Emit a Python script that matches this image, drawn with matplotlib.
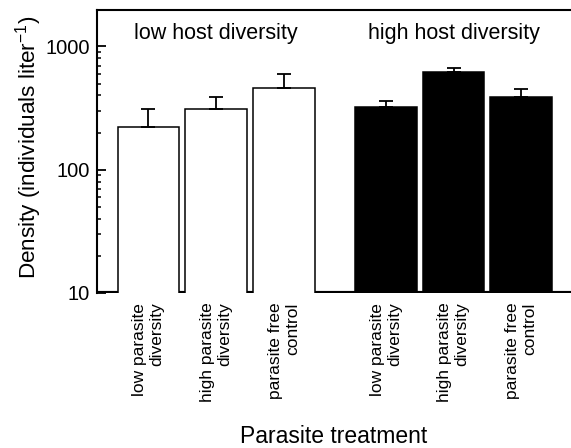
import numpy as np
import matplotlib
matplotlib.use("Agg")
import matplotlib.pyplot as plt
from matplotlib.ticker import NullFormatter, LogLocator

plt.rcParams['font.family'] = ['Liberation Sans', 'DejaVu Sans']
plt.rcParams['mathtext.fontset'] = 'custom'
plt.rcParams['mathtext.rm'] = 'Liberation Sans'
plt.rcParams['mathtext.it'] = 'Liberation Sans:italic'
plt.rcParams['mathtext.bf'] = 'Liberation Sans:bold'

# data
treatments = ["low parasite\ndiversity", "high parasite\ndiversity", "parasite free\ncontrol"]
low_host = [222, 313, 462]
low_host_se = [89, 76, 132]
high_host = [324, 624, 389]
high_host_se = [39, 48, 60]
group_titles = ["low host diversity", "high host diversity"]

fig = plt.figure(figsize=(5.71, 4.48), dpi=100)
ax = fig.add_axes([0.170, 0.346, 0.832, 0.632])
ax.set_yscale('log')

x_low = np.arange(3)
x_high = np.arange(3) + 3.5
w = 0.91

# baseline only shows between bars
ax.axhline(10, color='k', lw=3, zorder=1)

ax.bar(x_low, low_host, w, color='white', edgecolor='black', linewidth=1.1, zorder=2)
ax.bar(x_high, high_host, w, color='black', edgecolor='black', linewidth=1.1, zorder=2)
ax.errorbar(x_low, low_host, yerr=[np.zeros(3), low_host_se], fmt='none',
            ecolor='black', elinewidth=1.3, capsize=5, capthick=1.3, zorder=3)
ax.errorbar(x_high, high_host, yerr=[np.zeros(3), high_host_se], fmt='none',
            ecolor='black', elinewidth=1.3, capsize=5, capthick=1.3, zorder=1.5)

ax.set_ylim(10, 1980)
ax.set_xlim(-0.758, 6.25)

ax.set_yticks([10, 100, 1000], labels=["10", "100", "1000"])
ax.yaxis.set_minor_locator(LogLocator(base=10, subs=np.arange(2, 10)))
ax.yaxis.set_minor_formatter(NullFormatter())
ax.tick_params(axis='y', which='major', direction='in', length=6.5, width=1.3,
               labelsize=14.5, pad=5)
ax.tick_params(axis='y', which='minor', direction='in', length=3, width=1.1)

ax.set_xticks(np.concatenate([x_low, x_high]), labels=treatments * 2,
              rotation=90, va='top', ha='center', multialignment='right')
ax.tick_params(axis='x', length=0, labelsize=12.5, pad=7)

ax.spines['bottom'].set_visible(False)
ax.spines['right'].set_visible(False)
ax.spines['left'].set_linewidth(1.5)
ax.spines['top'].set_linewidth(1.5)

ax.text(1, 0.915, group_titles[0], transform=ax.get_xaxis_transform(),
        ha='center', va='center', fontsize=15.5)
ax.text(4.5, 0.915, group_titles[1], transform=ax.get_xaxis_transform(),
        ha='center', va='center', fontsize=15.5)

ax.set_ylabel("Density (individuals liter$^{-1}$)", fontsize=16.2, labelpad=0)
ax.yaxis.set_label_coords(-0.112, 0.515)
fig.text(0.585, 0.025, "Parasite treatment", ha='center', va='center', fontsize=16.5)

fig.savefig("out.png", dpi=100)
